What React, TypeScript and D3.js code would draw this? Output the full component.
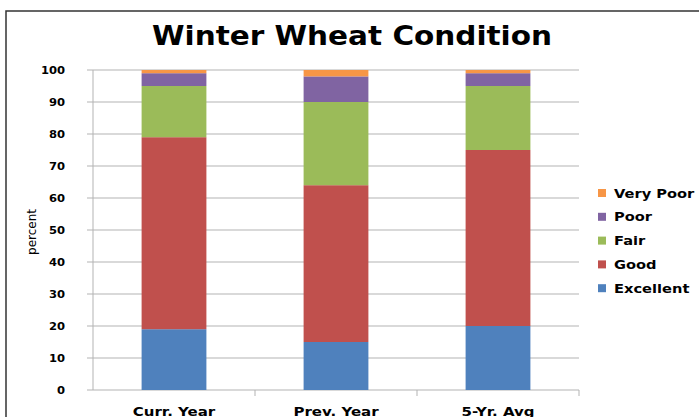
import React from 'react';
import * as d3 from 'd3';

// data
const categories = ['Curr. Year', 'Prev. Year', '5-Yr. Avg'];
const seriesNames = ['Excellent', 'Good', 'Fair', 'Poor', 'Very Poor'];
const excellent = [19, 15, 20];
const good = [60, 49, 55];
const fair = [16, 26, 20];
const poor = [4, 8, 4];
const veryPoor = [1, 2, 1];
const yTicks = [0, 10, 20, 30, 40, 50, 60, 70, 80, 90, 100];

const colors = ['#4F81BD', '#C0504D', '#9BBB59', '#8064A2', '#F79646'];

const W = 699;
const H = 417;
const font = 'DejaVu Sans, Verdana, sans-serif';

export default function App() {
  const margin = { left: 93, right: 120, top: 70, bottom: 27 };
  const x = d3.scaleBand().domain(categories).range([margin.left, W - margin.right]).paddingInner(0.6).paddingOuter(0.3);
  const xOuter = d3.scaleBand().domain(categories).range([margin.left, W - margin.right]);
  const y = d3.scaleLinear().domain([0, 100]).range([H - margin.bottom, margin.top]);

  // build rows for the stack
  const rows = categories.map((c, i) => ({
    cat: c,
    Excellent: excellent[i],
    Good: good[i],
    Fair: fair[i],
    Poor: poor[i],
    'Very Poor': veryPoor[i],
  }));
  const stacked = d3.stack<any>().keys(seriesNames)(rows);

  const x0 = margin.left;
  const x1 = W - margin.right;
  const legendOrder = [...seriesNames].reverse();

  return (
    <svg width={W} height={H} style={{ position: 'absolute', left: 0, top: 0, background: '#fff' }}>
      {/* outer chart border */}
      <path d={`M6,${H} V11 H${W}`} fill="none" stroke="#333" strokeWidth={1.5} />

      <text x={352} y={45} textAnchor="middle" fontFamily={font} fontWeight="bold" fontSize={26}
        textLength={400} lengthAdjust="spacingAndGlyphs">Winter Wheat Condition</text>

      {/* gridlines + y ticks */}
      {yTicks.map((t) => (
        <g key={t}>
          <line x1={x0 - 6} x2={x1} y1={y(t)} y2={y(t)} stroke="#b3b3b3" strokeWidth={1} />
          <text transform={`translate(65,${y(t) + 3.8}) scale(1.1,1)`} textAnchor="end" fontFamily={font}
            fontWeight="bold" fontSize={10.5}>{t}</text>
        </g>
      ))}
      <line x1={x0} x2={x0} y1={y(100)} y2={y(0)} stroke="#b3b3b3" />

      {/* category boundary ticks */}
      {categories.map((c) => (
        <line key={c} x1={xOuter(c)! + xOuter.bandwidth()} x2={xOuter(c)! + xOuter.bandwidth()}
          y1={y(0)} y2={y(0) + 6} stroke="#b3b3b3" />
      ))}

      <text transform={`translate(36,232) rotate(-90)`} textAnchor="middle" fontFamily={font} fontSize={12}>percent</text>

      {/* stacked bars */}
      {stacked.map((s, si) => (
        <g key={s.key} fill={colors[si]}>
          {s.map((d: any, i) => (
            <rect key={i} x={x(categories[i])} width={x.bandwidth()} y={y(d[1])} height={y(d[0]) - y(d[1])} />
          ))}
        </g>
      ))}

      {/* x labels */}
      {categories.map((c) => (
        <text key={c} transform={`translate(${xOuter(c)! + xOuter.bandwidth() / 2},416) scale(1.25,1)`}
          textAnchor="middle" fontFamily={font} fontWeight="bold" fontSize={12}>{c}</text>
      ))}

      {/* legend */}
      {legendOrder.map((name, i) => {
        const ly = 193 + i * 23.8;
        return (
          <g key={name}>
            <rect x={598} y={ly - 4} width={8} height={8} fill={colors[seriesNames.indexOf(name)]} />
            <text transform={`translate(614,${ly + 4.5}) scale(1.22,1)`} fontFamily={font} fontWeight="bold"
              fontSize={12}>{name}</text>
          </g>
        );
      })}
    </svg>
  );
}
